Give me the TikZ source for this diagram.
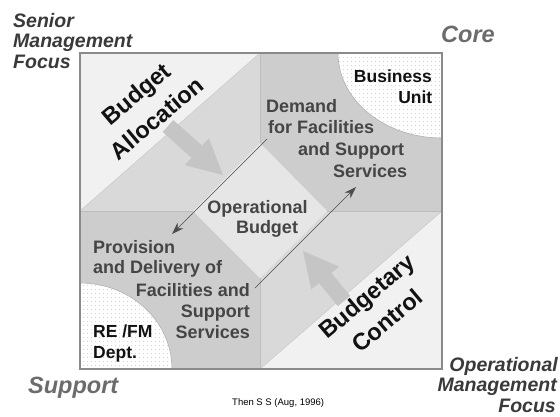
\documentclass[tikz,border=0pt]{standalone}
\usepackage{fontspec}
\setmainfont{Liberation Sans}
\usetikzlibrary{calc,arrows.meta,patterns.meta}
\definecolor{lightbg}{HTML}{F1F1F1}
\definecolor{bandc}{HTML}{D9D9D9}
\definecolor{quadc}{HTML}{CDCDCD}
\definecolor{diac}{HTML}{E6E6E6}
\definecolor{bigarrc}{HTML}{C5C5C5}
\definecolor{edgec}{HTML}{8A8A8A}
\definecolor{seamc}{HTML}{BDBDBD}
\definecolor{txtc}{HTML}{454545}
\definecolor{focusc}{HTML}{3A3A3A}
\definecolor{cornerc}{HTML}{6C6C6C}
\definecolor{dotc}{HTML}{9A9A9A}
\newcommand\blockarrow[2]{%
  \fill[bigarrc]
    ($(#1)!8pt!90:(#2)$) --
    ($($(#2)!35pt!(#1)$)!8pt!-90:(#1)$) --
    ($($(#2)!35pt!(#1)$)!18pt!-90:(#1)$) --
    (#2) --
    ($($(#2)!35pt!(#1)$)!18pt!90:(#1)$) --
    ($($(#2)!35pt!(#1)$)!8pt!90:(#1)$) --
    ($(#1)!8pt!-90:(#2)$) -- cycle;}
\begin{document}
\begin{tikzpicture}[x=1pt,y=-1pt,
  focus/.style={font=\fontsize{19.5}{21}\selectfont\bfseries\itshape, text=focusc, inner sep=0pt},
  cornerlbl/.style={font=\fontsize{23.5}{26}\selectfont\bfseries\itshape, text=cornerc, inner sep=0pt},
  inner/.style={font=\fontsize{18}{21}\selectfont\bfseries, text=txtc, inner sep=0pt},
  darklbl/.style={font=\fontsize{17.5}{21}\selectfont\bfseries, text=black!93, inner sep=0pt},
  diaglbl/.style={font=\fontsize{23.5}{32}\selectfont\bfseries, text=black!93, inner sep=0pt, align=center, anchor=center, rotate=40},
  thinarrow/.style={draw=black!70, line width=0.6pt, -{Stealth[length=12pt,width=8pt]}},
  seam/.style={draw=seamc, line width=0.7pt},
  dotted corner/.style={fill=white, draw=black!30, line width=0.6pt}
]
\useasboundingbox (0,0) rectangle (560,416);
\fill[white] (0,0) rectangle (560,416);
% base band
\fill[bandc] (80,53) rectangle (442,369);
% light triangles
\fill[lightbg] (80,53) -- (260,53) -- (80,211) -- cycle;
\fill[lightbg] (442,211) -- (442,369) -- (260,369) -- cycle;
% quadrants
\fill[quadc] (260,53) -- (442,53) -- (442,211) -- (327,211) -- (260,143) -- cycle;
\fill[quadc] (80,211) -- (193,211) -- (260,278) -- (260,369) -- (80,369) -- cycle;
% diamond
\fill[diac] (260,143) -- (327,211) -- (260,278) -- (193,211) -- cycle;
% dotted quarter ellipses
\begin{scope}
  \clip (80,53) rectangle (442,369);
  \path[dotted corner] (442,53) ellipse[x radius=104pt, y radius=85pt];
  \fill[pattern={Dots[distance=4pt, radius=0.42pt]}, pattern color=dotc] (442,53) ellipse[x radius=104pt, y radius=85pt];
  \path[dotted corner] (80,369) ellipse[x radius=92pt, y radius=86pt];
  \fill[pattern={Dots[distance=4pt, radius=0.42pt]}, pattern color=dotc] (80,369) ellipse[x radius=92pt, y radius=86pt];
\end{scope}
% seams
\draw[seam] (260,53) -- (260,143);
\draw[seam] (327,211) -- (442,211);
\draw[seam] (80,211) -- (193,211);
\draw[seam] (260,278) -- (260,369);
\draw[draw=black!22, line width=0.5pt] (260,53) -- (80,211);
\draw[draw=black!22, line width=0.5pt] (442,211) -- (260,369);
% big arrows
\coordinate (baS) at (168,126);
\coordinate (baT) at (223,175);
\coordinate (bcS) at (344,301);
\coordinate (bcT) at (303,251);
\blockarrow{baS}{baT}
\blockarrow{bcS}{bcT}
% thin arrows
\coordinate (t1s) at (267,139);
\coordinate (t1e) at (172,234);
\coordinate (t2s) at (255,288);
\coordinate (t2e) at (356,187);
\draw[thinarrow] (t1s) -- (t1e);
\draw[thinarrow] (t2s) -- (t2e);
% outer border
\draw[edgec, line width=1.1pt] (80,53) rectangle (442,369);
% corner labels
\node[focus, anchor=base west] (sm1) at (13,27) {Senior};
\node[focus, anchor=base west] (sm2) at (13,47.5) {Management};
\node[focus, anchor=base west] (sm3) at (13,68) {Focus};
\node[cornerlbl, anchor=base west] (core) at (441,42) {Core};
\node[cornerlbl, anchor=base west] (supp) at (28,393) {Support};
\node[focus, anchor=base east] (om1) at (558,371) {Operational};
\node[focus, anchor=base east] (om2) at (557,391.5) {Management};
\node[focus, anchor=base east] (om3) at (556,412) {Focus};
% inner labels
\node[darklbl, anchor=base east] (bu1) at (432,82) {Business};
\node[darklbl, anchor=base east] (bu2) at (432.5,103) {Unit};
\node[darklbl, anchor=base west] (re1) at (93,337) {RE /FM};
\node[darklbl, anchor=base west] (re2) at (93,358) {Dept.};
\node[inner, anchor=base west] (d1) at (266,112) {Demand};
\node[inner, anchor=base west] (d2) at (268,133) {for Facilities};
\node[inner, anchor=base west] (d3) at (298,155) {and Support};
\node[inner, anchor=base west] (d4) at (333,177) {Services};
\node[inner, anchor=base] (ob1) at (257.5,213) {Operational};
\node[inner, anchor=base] (ob2) at (267,233) {Budget};
\node[inner, anchor=base west] (p1) at (93,253) {Provision};
\node[inner, anchor=base west] (p2) at (93,273) {and Delivery of};
\node[inner, anchor=base east] (p3) at (250,296) {Facilities and};
\node[inner, anchor=base east] (p4) at (250,317) {Support};
\node[inner, anchor=base east] (p5) at (250,338) {Services};
% diagonal labels
\node[diaglbl] (ba) at (146.6,105.9) {Budget\\Allocation};
\node[diaglbl] (bc) at (376.6,308.4) {Budgetary\\Control};
% source
\node[font=\fontsize{9.5}{11}\selectfont, anchor=base west, inner sep=0pt] (src) at (232,405) {Then S S (Aug, 1996)};
\end{tikzpicture}
\end{document}
